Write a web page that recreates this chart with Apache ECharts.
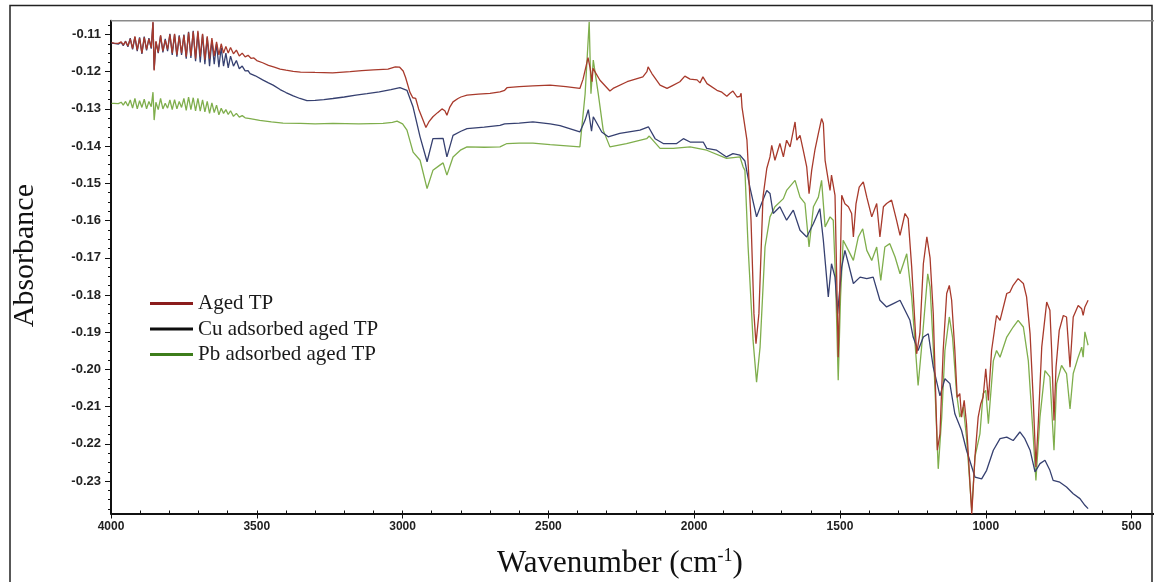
<!DOCTYPE html>
<html>
<head>
<meta charset="utf-8">
<script src="https://cdn.jsdelivr.net/npm/echarts@6/dist/echarts.min.js"></script>
<style>
html,body{margin:0;padding:0;background:#fff;}
#c{width:1154px;height:582px;}
</style>
</head>
<body>
<div id="c"></div>
<script>
// ---- Data (wavenumber cm-1, absorbance) ----
const seriesNames = ['Aged TP', 'Cu adsorbed aged TP', 'Pb adsorbed aged TP'];
const xTicks = [4000, 3500, 3000, 2500, 2000, 1500, 1000, 500];
const yTicks = [-0.23, -0.22, -0.21, -0.20, -0.19, -0.18, -0.17, -0.16, -0.15, -0.14, -0.13, -0.12, -0.11];

const agedTP = [[3998,-0.1122],[3990,-0.1123],[3975,-0.1124],[3965,-0.1120],[3958,-0.1128],[3950,-0.1119],[3942,-0.1131],[3934,-0.1112],[3926,-0.1138],[3918,-0.1105],[3910,-0.1142],[3902,-0.1110],[3894,-0.1150],[3886,-0.1108],[3878,-0.1140],[3870,-0.1112],[3862,-0.1135],[3856,-0.1066],[3852,-0.1197],[3846,-0.1118],[3838,-0.1148],[3830,-0.1102],[3822,-0.1145],[3814,-0.1115],[3806,-0.1140],[3798,-0.1100],[3790,-0.1150],[3782,-0.1098],[3774,-0.1155],[3766,-0.1105],[3758,-0.1150],[3750,-0.1102],[3742,-0.1160],[3734,-0.1095],[3726,-0.1158],[3718,-0.1092],[3710,-0.1165],[3702,-0.1090],[3694,-0.1160],[3686,-0.1098],[3678,-0.1168],[3670,-0.1105],[3662,-0.1165],[3654,-0.1110],[3646,-0.1158],[3638,-0.1120],[3630,-0.1155],[3622,-0.1125],[3614,-0.1150],[3606,-0.1132],[3598,-0.1150],[3590,-0.1135],[3580,-0.1152],[3570,-0.1142],[3560,-0.1158],[3550,-0.1150],[3540,-0.1160],[3530,-0.1156],[3520,-0.1164],[3510,-0.1163],[3500,-0.1170],[3480,-0.1176],[3460,-0.1183],[3440,-0.1188],[3420,-0.1193],[3400,-0.1196],[3375,-0.1199],[3350,-0.1201],[3300,-0.1202],[3240,-0.1203],[3180,-0.1200],[3140,-0.1197],[3100,-0.1195],[3050,-0.1193],[3025,-0.1187],[3010,-0.1188],[2998,-0.1198],[2990,-0.1215],[2975,-0.1255],[2965,-0.1270],[2955,-0.1272],[2945,-0.1300],[2930,-0.1330],[2920,-0.1350],[2910,-0.1335],[2896,-0.1321],[2880,-0.1310],[2865,-0.1300],[2855,-0.1305],[2848,-0.1317],[2838,-0.1295],[2827,-0.1281],[2810,-0.1272],[2800,-0.1268],[2779,-0.1263],[2740,-0.1260],[2700,-0.1258],[2666,-0.1254],[2650,-0.1250],[2642,-0.1243],[2600,-0.1240],[2553,-0.1238],[2494,-0.1236],[2440,-0.1240],[2392,-0.1245],[2381,-0.1220],[2364,-0.1162],[2357,-0.1190],[2350,-0.1227],[2347,-0.1191],[2323,-0.1223],[2289,-0.1252],[2278,-0.1245],[2230,-0.1227],[2176,-0.1214],[2162,-0.1200],[2158,-0.1187],[2145,-0.1205],[2117,-0.1236],[2093,-0.1245],[2076,-0.1238],[2049,-0.1227],[2032,-0.1212],[2014,-0.1220],[1990,-0.1222],[1980,-0.1230],[1970,-0.1214],[1956,-0.1232],[1922,-0.1250],[1905,-0.1255],[1888,-0.1266],[1877,-0.1258],[1867,-0.1252],[1853,-0.1268],[1843,-0.1266],[1839,-0.1258],[1836,-0.1295],[1819,-0.1384],[1805,-0.1600],[1795,-0.1850],[1788,-0.1931],[1778,-0.1850],[1764,-0.1537],[1751,-0.1460],[1740,-0.1429],[1734,-0.1398],[1723,-0.1438],[1706,-0.1393],[1694,-0.1429],[1683,-0.1384],[1671,-0.1402],[1654,-0.1335],[1648,-0.1384],[1637,-0.1371],[1626,-0.1411],[1614,-0.1456],[1606,-0.1528],[1597,-0.1465],[1586,-0.1411],[1574,-0.1366],[1563,-0.1326],[1557,-0.1339],[1551,-0.1438],[1540,-0.1492],[1534,-0.1519],[1529,-0.1478],[1523,-0.1483],[1517,-0.1532],[1511,-0.1761],[1506,-0.1967],[1500,-0.1761],[1494,-0.1532],[1483,-0.1555],[1471,-0.1563],[1460,-0.1581],[1454,-0.1644],[1445,-0.1555],[1434,-0.1510],[1420,-0.1496],[1408,-0.1537],[1391,-0.1590],[1374,-0.1554],[1363,-0.1644],[1351,-0.1563],[1340,-0.1554],[1323,-0.1545],[1306,-0.1599],[1294,-0.1640],[1277,-0.1581],[1266,-0.1595],[1254,-0.1725],[1237,-0.1958],[1226,-0.1904],[1214,-0.1716],[1202,-0.1644],[1191,-0.1700],[1180,-0.1850],[1166,-0.2217],[1157,-0.2173],[1146,-0.1949],[1134,-0.1796],[1125,-0.1774],[1117,-0.1814],[1106,-0.1949],[1098,-0.2075],[1089,-0.2065],[1083,-0.2128],[1074,-0.2083],[1066,-0.2146],[1048,-0.2388],[1037,-0.2235],[1026,-0.2128],[1017,-0.2092],[1009,-0.2074],[1000,-0.1998],[991,-0.2083],[980,-0.1949],[963,-0.1855],[951,-0.1868],[928,-0.1796],[917,-0.1792],[906,-0.1774],[889,-0.1756],[871,-0.1769],[860,-0.1805],[848,-0.1904],[837,-0.2083],[828,-0.2262],[820,-0.2146],[808,-0.1940],[791,-0.1819],[780,-0.1841],[774,-0.1949],[766,-0.2137],[759,-0.1994],[748,-0.1895],[734,-0.1855],[723,-0.1859],[711,-0.1994],[700,-0.1859],[683,-0.1828],[671,-0.1837],[666,-0.1855],[660,-0.1832],[649,-0.1814]];

const cuTP = [[3998,-0.1123],[3990,-0.1124],[3975,-0.1126],[3965,-0.1121],[3958,-0.1130],[3950,-0.1118],[3942,-0.1133],[3934,-0.1110],[3926,-0.1140],[3918,-0.1107],[3910,-0.1145],[3902,-0.1108],[3894,-0.1152],[3886,-0.1106],[3878,-0.1143],[3870,-0.1110],[3862,-0.1138],[3856,-0.1068],[3852,-0.1195],[3846,-0.1120],[3838,-0.1150],[3830,-0.1104],[3822,-0.1148],[3814,-0.1112],[3806,-0.1145],[3798,-0.1098],[3790,-0.1155],[3782,-0.1100],[3774,-0.1160],[3766,-0.1102],[3758,-0.1155],[3750,-0.1100],[3742,-0.1165],[3734,-0.1093],[3726,-0.1163],[3718,-0.1090],[3710,-0.1172],[3702,-0.1095],[3694,-0.1175],[3686,-0.1100],[3678,-0.1180],[3670,-0.1108],[3662,-0.1185],[3654,-0.1115],[3646,-0.1180],[3638,-0.1125],[3630,-0.1188],[3622,-0.1135],[3614,-0.1185],[3606,-0.1150],[3598,-0.1190],[3590,-0.1158],[3580,-0.1185],[3570,-0.1170],[3560,-0.1192],[3550,-0.1185],[3540,-0.1198],[3530,-0.1197],[3523,-0.1205],[3505,-0.1211],[3480,-0.1222],[3460,-0.1230],[3444,-0.1236],[3420,-0.1248],[3400,-0.1256],[3375,-0.1265],[3352,-0.1272],[3328,-0.1278],[3300,-0.1277],[3270,-0.1275],[3239,-0.1272],[3200,-0.1268],[3160,-0.1263],[3122,-0.1259],[3080,-0.1254],[3040,-0.1248],[3009,-0.1243],[2985,-0.1250],[2964,-0.1295],[2940,-0.1375],[2916,-0.1442],[2896,-0.1380],[2861,-0.1379],[2848,-0.1429],[2827,-0.1371],[2800,-0.1360],[2779,-0.1353],[2720,-0.1349],[2666,-0.1344],[2650,-0.1340],[2600,-0.1338],[2553,-0.1335],[2494,-0.1340],[2460,-0.1345],[2392,-0.1362],[2374,-0.1330],[2363,-0.1302],[2352,-0.1360],[2346,-0.1321],[2317,-0.1362],[2295,-0.1375],[2255,-0.1366],[2186,-0.1357],[2157,-0.1348],[2134,-0.1380],[2106,-0.1393],[2060,-0.1393],[2037,-0.1380],[2014,-0.1389],[1969,-0.1389],[1957,-0.1406],[1923,-0.1411],[1889,-0.1429],[1867,-0.1420],[1843,-0.1424],[1826,-0.1440],[1809,-0.1510],[1786,-0.1590],[1769,-0.1554],[1751,-0.1519],[1740,-0.1527],[1729,-0.1581],[1706,-0.1563],[1683,-0.1599],[1660,-0.1572],[1637,-0.1626],[1614,-0.1644],[1591,-0.1608],[1569,-0.1568],[1557,-0.1653],[1540,-0.1805],[1529,-0.1716],[1517,-0.1752],[1508,-0.1850],[1494,-0.1725],[1483,-0.1680],[1471,-0.1716],[1454,-0.1769],[1431,-0.1752],[1408,-0.1756],[1386,-0.1752],[1363,-0.1814],[1340,-0.1832],[1317,-0.1823],[1294,-0.1814],[1277,-0.1841],[1260,-0.1868],[1249,-0.1913],[1232,-0.1949],[1214,-0.1913],[1197,-0.1904],[1180,-0.1994],[1157,-0.2071],[1140,-0.2025],[1123,-0.2038],[1106,-0.2119],[1083,-0.2164],[1066,-0.2217],[1037,-0.2289],[1014,-0.2294],[997,-0.2271],[974,-0.2217],[951,-0.2186],[928,-0.2182],[906,-0.2191],[883,-0.2168],[866,-0.2186],[848,-0.2217],[831,-0.2275],[814,-0.2253],[797,-0.2244],[780,-0.2271],[769,-0.2298],[746,-0.2303],[723,-0.2316],[700,-0.2334],[677,-0.2347],[660,-0.2365],[649,-0.2374]];

const pbTP = [[3998,-0.1285],[3990,-0.1285],[3975,-0.1286],[3965,-0.1282],[3958,-0.1290],[3950,-0.1280],[3942,-0.1292],[3934,-0.1276],[3926,-0.1298],[3918,-0.1272],[3910,-0.1300],[3902,-0.1278],[3894,-0.1296],[3886,-0.1274],[3878,-0.1300],[3870,-0.1280],[3862,-0.1294],[3856,-0.1255],[3852,-0.1330],[3846,-0.1282],[3838,-0.1302],[3830,-0.1272],[3822,-0.1300],[3814,-0.1285],[3806,-0.1298],[3798,-0.1276],[3790,-0.1302],[3782,-0.1275],[3774,-0.1300],[3766,-0.1280],[3758,-0.1296],[3750,-0.1272],[3742,-0.1304],[3734,-0.1268],[3726,-0.1302],[3718,-0.1270],[3710,-0.1305],[3702,-0.1272],[3694,-0.1306],[3686,-0.1276],[3678,-0.1308],[3670,-0.1280],[3662,-0.1312],[3654,-0.1284],[3646,-0.1310],[3638,-0.1290],[3630,-0.1316],[3622,-0.1298],[3614,-0.1312],[3606,-0.1302],[3598,-0.1315],[3590,-0.1305],[3580,-0.1320],[3570,-0.1312],[3560,-0.1322],[3550,-0.1318],[3540,-0.1324],[3523,-0.1326],[3490,-0.1331],[3450,-0.1335],[3410,-0.1338],[3350,-0.1339],[3300,-0.1340],[3239,-0.1339],[3150,-0.1340],[3067,-0.1339],[3035,-0.1336],[3019,-0.1333],[3000,-0.1340],[2985,-0.1357],[2964,-0.1416],[2940,-0.1438],[2916,-0.1514],[2896,-0.1465],[2872,-0.1451],[2861,-0.1445],[2848,-0.1478],[2827,-0.1429],[2800,-0.1410],[2779,-0.1402],[2720,-0.1403],[2666,-0.1402],[2642,-0.1393],[2600,-0.1392],[2553,-0.1392],[2494,-0.1396],[2392,-0.1402],[2374,-0.1260],[2360,-0.1066],[2354,-0.1259],[2346,-0.1169],[2329,-0.1259],[2312,-0.1357],[2289,-0.1402],[2232,-0.1393],[2163,-0.1380],[2154,-0.1373],[2117,-0.1406],[2072,-0.1406],[2014,-0.1402],[1957,-0.1411],[1889,-0.1433],[1843,-0.1429],[1832,-0.1456],[1826,-0.1465],[1815,-0.1671],[1798,-0.1922],[1786,-0.2034],[1774,-0.1940],[1757,-0.1671],[1740,-0.1590],[1723,-0.1563],[1694,-0.1541],[1683,-0.1519],[1654,-0.1492],[1637,-0.1537],[1620,-0.1554],[1606,-0.1671],[1591,-0.1563],[1574,-0.1537],[1563,-0.1492],[1551,-0.1617],[1534,-0.1590],[1523,-0.1599],[1515,-0.1761],[1506,-0.2029],[1498,-0.1805],[1489,-0.1653],[1471,-0.1680],[1454,-0.1707],[1437,-0.1644],[1422,-0.1622],[1408,-0.1680],[1391,-0.1707],[1374,-0.1671],[1360,-0.1761],[1346,-0.1671],[1329,-0.1662],[1311,-0.1698],[1294,-0.1743],[1271,-0.1689],[1254,-0.1805],[1232,-0.2043],[1220,-0.1940],[1199,-0.1743],[1191,-0.1778],[1180,-0.1940],[1163,-0.2267],[1151,-0.2128],[1140,-0.1949],[1125,-0.1859],[1114,-0.1913],[1100,-0.2065],[1089,-0.2128],[1077,-0.2101],[1066,-0.2182],[1048,-0.2379],[1037,-0.2235],[1020,-0.2173],[1009,-0.2065],[1000,-0.2056],[991,-0.2146],[974,-0.1977],[963,-0.1949],[951,-0.1967],[928,-0.1913],[906,-0.1886],[889,-0.1868],[871,-0.1886],[854,-0.1977],[837,-0.2182],[828,-0.2298],[814,-0.2128],[797,-0.2003],[780,-0.2020],[766,-0.2217],[757,-0.2038],[740,-0.1989],[723,-0.2011],[711,-0.2106],[700,-0.2011],[683,-0.1967],[671,-0.1940],[666,-0.1967],[660,-0.1899],[649,-0.1935]];

// ---- Chart ----
const X_MIN = 423, X_MAX = 4000;
const Y_MIN = -0.2387, Y_MAX = -0.1063;
const xMinor = [];
for (let v = 500; v <= 4000; v += 100) xMinor.push(v);
const yMinor = [];
for (let i = 0; i <= 52; i++) yMinor.push(+(-0.2375 + i * 0.0025).toFixed(4));

const chart = echarts.init(document.getElementById('c'), null, {renderer: 'canvas'});
const labelFont = {fontFamily: 'Liberation Sans, Arial, sans-serif', fontWeight: 'bold', color: '#222'};

chart.setOption({
  animation: false,
  backgroundColor: '#ffffff',
  grid: {left: 111, right: 0, top: 20.7, bottom: 68.5},
  legend: {
    orient: 'vertical', left: 145, top: 288,
    itemWidth: 43, itemHeight: 3, itemGap: 4.5,
    icon: 'rect',
    textStyle: {fontFamily: 'Liberation Serif, Times New Roman, serif', fontSize: 21, color: '#1a1a1a', lineHeight: 21},
    data: seriesNames
  },
  xAxis: [{
    type: 'value', inverse: true, min: X_MIN, max: X_MAX,
    position: 'bottom',
    axisLine: {show: true, onZero: false, lineStyle: {color: '#111', width: 2}},
    axisTick: {show: true, length: 5, customValues: xTicks, lineStyle: {color: '#111', width: 1}},
    axisLabel: {customValues: xTicks, margin: 7, fontSize: 12, formatter: v => String(v), ...labelFont},
    splitLine: {show: false}
  }, {
    type: 'value', inverse: true, min: X_MIN, max: X_MAX,
    position: 'bottom',
    axisLine: {show: false, onZero: false},
    axisTick: {show: true, inside: true, length: 3, customValues: xMinor, lineStyle: {color: '#111', width: 1}},
    axisLabel: {show: false},
    splitLine: {show: false}
  }],
  yAxis: [{
    type: 'value', min: Y_MIN, max: Y_MAX,
    axisLine: {show: true, onZero: false, lineStyle: {color: '#111', width: 2}},
    axisTick: {show: true, length: 6, customValues: yTicks, lineStyle: {color: '#111', width: 1}},
    axisLabel: {customValues: yTicks, margin: 10, fontSize: 13, formatter: v => v.toFixed(2), ...labelFont},
    splitLine: {show: false}
  }, {
    type: 'value', min: Y_MIN, max: Y_MAX, position: 'left',
    axisLine: {show: false, onZero: false},
    axisTick: {show: true, length: 3, customValues: yMinor, lineStyle: {color: '#111', width: 1}},
    axisLabel: {show: false},
    splitLine: {show: false}
  }],
  graphic: [
    {type: 'rect', shape: {x: 10, y: 5.5, width: 1142, height: 600}, style: {fill: 'none', stroke: '#222', lineWidth: 1.5}, silent: true, z: 100},
    {type: 'line', shape: {x1: 111, y1: 20.7, x2: 1154, y2: 20.7}, style: {stroke: '#8a8a8a', lineWidth: 1.5}, silent: true, z: 100},
    {type: 'text', left: 10, top: 184,
      style: {text: 'Absorbance', font: '30px "Liberation Serif", "Times New Roman", serif', fill: '#111'},
      rotation: Math.PI / 2, silent: true},
    {type: 'text', left: 497, top: 547,
      style: {
        text: '{m|Wavenumber (cm}{s|-1}{m|)}',
        rich: {
          m: {font: '31px "Liberation Serif", "Times New Roman", serif', fill: '#111', verticalAlign: 'bottom'},
          s: {font: '18px "Liberation Serif", "Times New Roman", serif', fill: '#111', verticalAlign: 'top', padding: [0,0,14,0]}
        }
      }, silent: true}
  ],
  series: [
    {name: seriesNames[2], type: 'line', data: pbTP, showSymbol: false, symbol: 'none', z: 2,
      itemStyle: {color: '#3d7d1b'}, lineStyle: {color: '#7fae4c', width: 1.3}},
    {name: seriesNames[1], type: 'line', data: cuTP, showSymbol: false, symbol: 'none', z: 3,
      itemStyle: {color: '#0d0d0d'}, lineStyle: {color: '#364070', width: 1.3}},
    {name: seriesNames[0], type: 'line', data: agedTP, showSymbol: false, symbol: 'none', z: 4,
      itemStyle: {color: '#8b1d1d'}, lineStyle: {color: '#a83a2c', width: 1.3}}
  ]
});
</script>
</body>
</html>
